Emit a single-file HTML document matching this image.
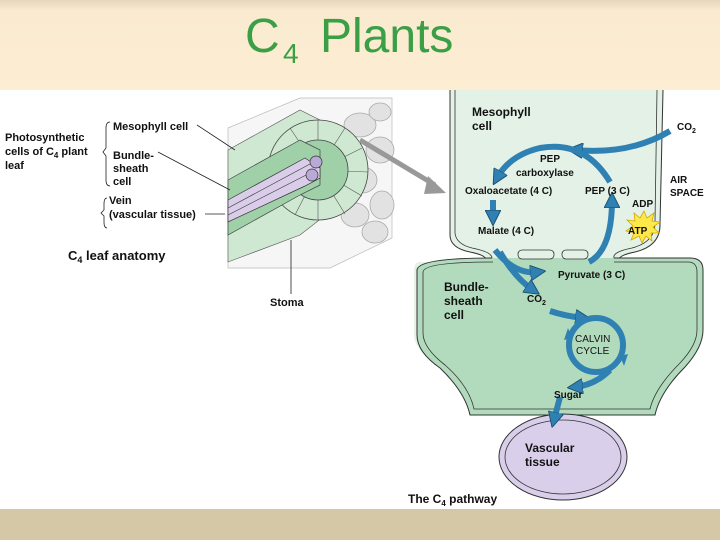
<!DOCTYPE html>
<html><head><meta charset="utf-8"><style>
html,body{margin:0;padding:0;width:720px;height:540px;overflow:hidden;background:#fff}
svg{display:block}
text{font-family:"Liberation Sans",Arial,sans-serif;font-weight:bold}
</style></head><body>
<svg width="720" height="540" viewBox="0 0 720 540" xmlns="http://www.w3.org/2000/svg">
<defs>
<linearGradient id="tb" x1="0" y1="0" x2="0" y2="1"><stop offset="0" stop-color="#e6d7bb"/><stop offset="0.12" stop-color="#faebd0"/><stop offset="1" stop-color="#fcedd3"/></linearGradient>
<marker id="ah" viewBox="0 0 10 10" refX="5" refY="5" markerWidth="2.6" markerHeight="2.6" orient="auto"><path d="M0,0 L10,5 L0,10 z" fill="#2f80b3" stroke="#1d4f70" stroke-width="0.6"/></marker>
</defs>
<rect x="0" y="0" width="720" height="90" fill="url(#tb)"/>
<rect x="0" y="509" width="720" height="31" fill="#d4c8a6"/>
<text x="245" y="52" font-size="48" fill="#3a9f45" style="font-weight:normal">C</text>
<text x="283" y="63" font-size="28" fill="#3a9f45" style="font-weight:normal">4</text>
<text x="320" y="52" font-size="48" fill="#3a9f45" style="font-weight:normal">Plants</text>

<!-- Leaf anatomy block -->
<g>
<polygon points="228,128 300,98 392,98 392,238 330,268 228,268" fill="#f6f6f6" stroke="#bbb" stroke-width="0.7"/>
<g fill="#e2e2e2" stroke="#aaa" stroke-width="0.8">
<ellipse cx="360" cy="125" rx="16" ry="12"/><ellipse cx="380" cy="150" rx="14" ry="13"/>
<ellipse cx="362" cy="180" rx="15" ry="13"/><ellipse cx="382" cy="205" rx="12" ry="14"/>
<ellipse cx="355" cy="215" rx="14" ry="12"/><ellipse cx="375" cy="232" rx="13" ry="11"/>
<ellipse cx="380" cy="112" rx="11" ry="9"/>
</g>
<polygon points="228,150 300,110 340,130 345,200 300,235 228,262" fill="#cfe8d2" stroke="#555" stroke-width="0.6"/>
<circle cx="318" cy="170" r="50" fill="#cfe8d2" stroke="#444" stroke-width="0.8"/>
<g stroke="#555" stroke-width="0.6">
<line x1="318" y1="170" x2="318" y2="120"/><line x1="318" y1="170" x2="345" y2="128"/><line x1="318" y1="170" x2="362" y2="148"/><line x1="318" y1="170" x2="368" y2="172"/><line x1="318" y1="170" x2="362" y2="196"/><line x1="318" y1="170" x2="345" y2="214"/><line x1="318" y1="170" x2="318" y2="220"/><line x1="318" y1="170" x2="295" y2="215"/><line x1="318" y1="170" x2="290" y2="128"/>
</g>
<circle cx="318" cy="170" r="30" fill="#9fd0a8" stroke="#444" stroke-width="0.8"/>
<polygon points="228,180 300,140 320,150 320,185 300,195 228,235" fill="#9fd0a8" stroke="#444" stroke-width="0.7"/>
<polygon points="228,200 305,158 320,168 320,178 305,186 228,222" fill="#d9cdea" stroke="#333" stroke-width="0.7"/>
<line x1="228" y1="208" x2="310" y2="164" stroke="#333" stroke-width="0.6"/>
<line x1="228" y1="215" x2="312" y2="172" stroke="#333" stroke-width="0.6"/>
<circle cx="316" cy="162" r="6" fill="#b9a9d6" stroke="#333" stroke-width="0.7"/>
<circle cx="312" cy="175" r="6" fill="#b9a9d6" stroke="#333" stroke-width="0.7"/>
<path d="M360,140 L435,185" stroke="#999" stroke-width="5"/>
<polygon points="428,176 446,193 424,194" fill="#999"/>
</g>
<!-- left labels -->
<g font-size="11" fill="#111">
<text x="5" y="141">Photosynthetic</text>
<text x="5" y="155">cells of C<tspan font-size="8" dy="3">4</tspan><tspan dy="-3"> plant</tspan></text>
<text x="5" y="169">leaf</text>
<text x="113" y="130">Mesophyll cell</text>
<text x="113" y="159">Bundle-</text>
<text x="113" y="172">sheath</text>
<text x="113" y="185">cell</text>
<text x="109" y="204">Vein</text>
<text x="109" y="218">(vascular tissue)</text>
<text x="68" y="260" font-size="13">C<tspan font-size="9" dy="3">4</tspan><tspan dy="-3"> leaf anatomy</tspan></text>
<text x="270" y="306">Stoma</text>
</g>
<g fill="none" stroke="#222" stroke-width="0.8">
<path d="M110,122 Q106,122 106,128 L106,148 L103,152 L106,156 L106,180 Q106,186 110,186"/>
<path d="M107,198 Q104,198 104,204 L104,210 L101,213 L104,216 L104,222 Q104,228 107,228"/>
<line x1="197" y1="125" x2="235" y2="150"/>
<line x1="158" y1="152" x2="230" y2="190"/>
<line x1="205" y1="214" x2="225" y2="214"/>
<line x1="291" y1="240" x2="291" y2="294"/>
</g>

<!-- C4 pathway -->
<path d="M450,90 L450,235 Q450,248 470,252 Q490,256 485,262 L420,262 Q414,262 414,270 L414,335 Q414,350 440,368 Q465,390 470,412 L655,412 Q662,390 685,365 Q702,345 702,330 L702,270 Q702,262 694,262 L620,262 Q615,256 635,252 Q660,246 660,225 L663,90 Z" fill="#e3f1e6"/>
<path d="M450,90 L450,235 Q450,248 470,252 Q490,256 485,262" fill="none" stroke="#333" stroke-width="1"/>
<path d="M455,90 L455,233 Q456,244 472,248 Q492,252 492,258" fill="none" stroke="#333" stroke-width="0.8"/>
<path d="M663,90 L660,225 Q660,246 635,252 Q615,256 620,262" fill="none" stroke="#333" stroke-width="1"/>
<path d="M657,90 L655,223 Q655,242 632,248 Q612,252 614,258" fill="none" stroke="#333" stroke-width="0.8"/>
<path d="M492,258 Q418,258 417,270 L417,335 Q417,352 440,368 Q465,392 470,415 L655,415 Q660,392 685,367 Q703,347 703,330 L703,270 Q703,258 690,258 L614,258" fill="#b2dbbd" stroke="#333" stroke-width="1"/>
<path d="M493,262 Q424,262 423,272 L423,333 Q423,348 445,365 Q469,386 474,409 L650,409 Q655,388 680,363 Q697,345 697,330 L697,272 Q697,262 688,262 L614,262" fill="none" stroke="#333" stroke-width="0.8"/>
<rect x="518" y="250" width="36" height="9" rx="4" fill="#e3f1e6" stroke="#333" stroke-width="0.8"/>
<rect x="562" y="250" width="26" height="9" rx="4" fill="#e3f1e6" stroke="#333" stroke-width="0.8"/>
<ellipse cx="563" cy="457" rx="64" ry="43" fill="#d9cfea" stroke="#333" stroke-width="1"/>
<ellipse cx="563" cy="457" rx="58" ry="37" fill="none" stroke="#333" stroke-width="0.8"/>

<g fill="none" stroke="#2f80b3" stroke-width="6" stroke-linecap="butt">
<path d="M670,131 Q630,155 575,150" marker-end="url(#ah)"/>
<path d="M610,182 Q585,140 540,148 Q510,155 497,178" marker-end="url(#ah)"/>
<path d="M493,200 L493,218" marker-end="url(#ah)"/>
<path d="M495,250 Q515,275 538,272" marker-end="url(#ah)"/>
<path d="M500,252 Q515,278 533,290" marker-end="url(#ah)"/>
<path d="M589,262 Q612,250 612,200" marker-end="url(#ah)"/>
<path d="M550,311 Q565,316 583,318" marker-end="url(#ah)"/>
<circle cx="596" cy="345" r="27"/>
<path d="M610,370 Q595,385 575,387" marker-end="url(#ah)"/>
<path d="M560,397 L554,420" marker-end="url(#ah)"/>
</g>
<path d="M620,356 L624,366 L628,354 Z" fill="#2f80b3"/>
<path d="M572,338 L568,328 L564,340 Z" fill="#2f80b3"/>
<polygon points="640,218 644,211 647,218 654,213 652,221 660,222 653,227 659,233 651,233 652,241 646,236 642,243 639,236 631,240 634,233 626,231 633,226 627,220 635,221 634,213" fill="#ffe94a" stroke="#d4a700" stroke-width="0.8"/>
<g fill="#111" font-size="11">
<text x="472" y="116" font-size="12">Mesophyll</text>
<text x="472" y="130" font-size="12">cell</text>
<text x="677" y="130" font-size="10">CO<tspan font-size="7" dy="3">2</tspan></text>
<text x="540" y="162" font-size="10">PEP</text>
<text x="516" y="176" font-size="10">carboxylase</text>
<text x="465" y="194" font-size="10">Oxaloacetate (4 C)</text>
<text x="585" y="194" font-size="10">PEP (3 C)</text>
<text x="670" y="183" font-size="10">AIR</text>
<text x="670" y="196" font-size="10">SPACE</text>
<text x="632" y="207" font-size="10">ADP</text>
<text x="628" y="234" font-size="10">ATP</text>
<text x="478" y="234" font-size="10">Malate (4 C)</text>
<text x="558" y="278" font-size="10">Pyruvate (3 C)</text>
<text x="444" y="291" font-size="12">Bundle-</text>
<text x="444" y="305" font-size="12">sheath</text>
<text x="444" y="319" font-size="12">cell</text>
<text x="527" y="302" font-size="10">CO<tspan font-size="7" dy="3">2</tspan></text>
<text x="575" y="342" font-size="10" style="font-weight:normal">CALVIN</text>
<text x="576" y="354" font-size="10" style="font-weight:normal">CYCLE</text>
<text x="554" y="398" font-size="10">Sugar</text>
<text x="525" y="452" font-size="12">Vascular</text>
<text x="525" y="466" font-size="12">tissue</text>
<text x="408" y="503" font-size="12">The C<tspan font-size="8" dy="3">4</tspan><tspan dy="-3"> pathway</tspan></text>
</g>
</svg>
</body></html>
